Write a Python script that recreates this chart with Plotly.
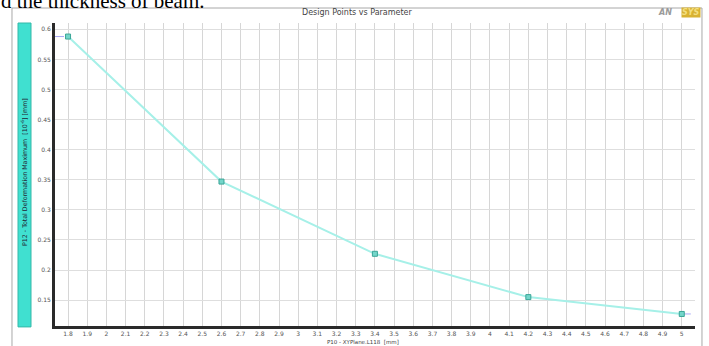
import plotly.graph_objects as go

# Data
param_mm = [1.8, 2.6, 3.4, 4.2, 5.0]
deformation = [0.588, 0.347, 0.227, 0.155, 0.127]

x_tick_vals = [round(1.8 + 0.1 * i, 1) for i in range(33)]
x_tick_text = ["1.8", "1.9", "2", "2.1", "2.2", "2.3", "2.4", "2.5", "2.6", "2.7", "2.8", "2.9",
               "3", "3.1", "3.2", "3.3", "3.4", "3.5", "3.6", "3.7", "3.8", "3.9",
               "4", "4.1", "4.2", "4.3", "4.4", "4.5", "4.6", "4.7", "4.8", "4.9", "5"]
y_tick_vals = [0.15, 0.2, 0.25, 0.3, 0.35, 0.4, 0.45, 0.5, 0.55, 0.6]
y_tick_text = ["0.15", "0.2", "0.25", "0.3", "0.35", "0.4", "0.45", "0.5", "0.55", "0.6"]

chart_title = "Design Points vs Parameter"
x_title = "P10 - XYPlane.L118  [mm]"
y_title = "P12 - Total Deformation Maximum  [10<sup>-6</sup>] [mm]"

x_range = [1.732, 5.069]
y_range = [0.107, 0.6105]

fig = go.Figure()

# dashed extensions
fig.add_trace(go.Scatter(x=[x_range[0], param_mm[0]], y=[deformation[0], deformation[0]],
                         mode="lines", line=dict(color="#a9a9f5", width=1, dash="dash"),
                         hoverinfo="skip", showlegend=False))
fig.add_trace(go.Scatter(x=[param_mm[-1], x_range[1]], y=[deformation[-1], deformation[-1]],
                         mode="lines", line=dict(color="#a9a9f5", width=1, dash="dash"),
                         hoverinfo="skip", showlegend=False))

fig.add_trace(go.Scatter(
    x=param_mm, y=deformation, mode="lines+markers",
    line=dict(color="#a6f0e8", width=2),
    marker=dict(symbol="square", size=5, color="#74d6ca", line=dict(color="#3aa597", width=1)),
    showlegend=False))

font_family = "DejaVu Sans"

fig.update_layout(
    width=709, height=346,
    margin=dict(l=55, r=14, t=23, b=20),
    paper_bgcolor="white", plot_bgcolor="white",
    font=dict(family=font_family, size=6, color="#555"),
    xaxis=dict(range=x_range, tickvals=x_tick_vals, ticktext=x_tick_text,
               showgrid=True, gridcolor="#d6d6d6", gridwidth=1,
               showline=True, linecolor="#2a2a2a", linewidth=3, automargin=False,
               ticks="", zeroline=False, tickfont=dict(size=6, color="#555")),
    yaxis=dict(range=y_range, tickvals=y_tick_vals, ticktext=y_tick_text,
               showgrid=True, gridcolor="#dedede", gridwidth=1,
               showline=True, linecolor="#2a2a2a", linewidth=3, automargin=False,
               ticks="", zeroline=False, tickfont=dict(size=6, color="#555")),
)

# outer panel border
fig.add_shape(type="rect", xref="paper", yref="paper",
              x0=-0.0672, x1=1.0109, y0=-0.2, y1=1.0495,
              line=dict(color="#a8a8a8", width=1), fillcolor="rgba(0,0,0,0)", layer="below")
# teal side bar
fig.add_shape(type="rect", xref="paper", yref="paper",
              x0=-0.0578, x1=-0.0375, y0=-0.003, y1=1.0,
              line=dict(color="#35b8a8", width=1), fillcolor="#40e0d0", layer="below")

annotations = [
    dict(text=chart_title, xref="paper", yref="paper", x=0.473, y=1.036,
         xanchor="center", yanchor="middle", showarrow=False,
         font=dict(family=font_family, size=8, color="#444")),
    dict(text=x_title, xref="paper", yref="paper", x=0.481, y=-0.053,
         xanchor="center", yanchor="middle", showarrow=False,
         font=dict(family=font_family, size=5.5, color="#444")),
    dict(text=y_title, xref="paper", yref="paper", x=-0.0477, y=0.51,
         xanchor="center", yanchor="middle", textangle=-90, showarrow=False,
         font=dict(family=font_family, size=6.3, color="#223")),
    dict(text="d the thickness of beam.", xref="paper", yref="paper", x=-0.0875, y=1.025,
         xanchor="left", yanchor="bottom", showarrow=False,
         font=dict(family="Liberation Serif", size=21, color="#000")),
    dict(text="<b><i>AN</i></b>", xref="paper", yref="paper", x=1.0, y=1.036,
         xanchor="right", yanchor="middle", xshift=-21, showarrow=False,
         font=dict(family=font_family, size=8, color="#9a9a9a")),
    dict(text="<b><i>SYS</i></b>", xref="paper", yref="paper", x=1.0, y=1.036,
         xanchor="right", yanchor="middle", xshift=6, showarrow=False,
         bgcolor="#d8b232", borderpad=0,
         font=dict(family=font_family, size=8, color="#f3df80")),
]
fig.update_layout(annotations=annotations)

fig.write_html("out.html", config={"displayModeBar": False},
               post_script="document.body.style.margin='0';document.body.style.overflow='hidden';")
